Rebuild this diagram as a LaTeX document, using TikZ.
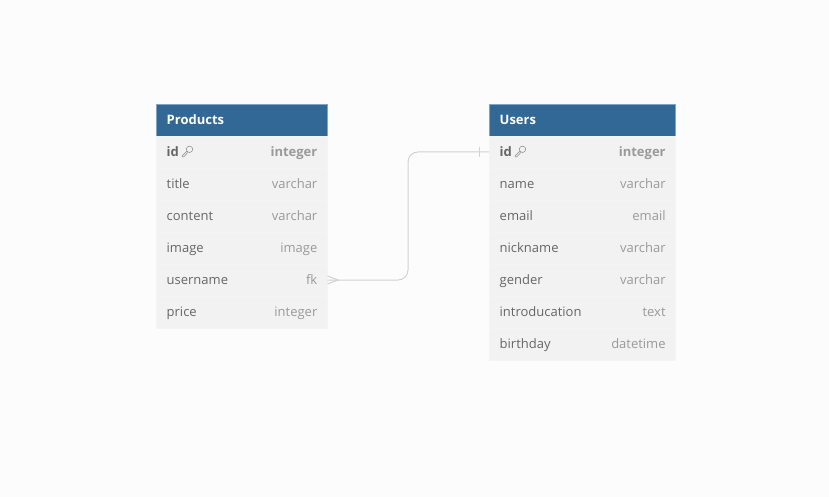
\documentclass[tikz,border=0pt]{standalone}
\usepackage{fontspec}
\setmainfont{Open Sans}
\definecolor{pagebg}{HTML}{FCFCFC}
\definecolor{headfill}{HTML}{316896}
\definecolor{headline}{HTML}{7FA5C4}
\definecolor{rowfill}{HTML}{F2F2F2}
\definecolor{rowline}{HTML}{F4F4F4}
\definecolor{namegray}{HTML}{666666}
\definecolor{typegray}{HTML}{9A9A9A}
\definecolor{linkgray}{HTML}{D2D2D2}
\tikzset{
	tablehead/.style={draw=headline, fill=headfill, line width=0.8pt, inner sep=0pt, minimum height=32pt},
	tablerow/.style={draw=rowline, fill=rowfill, line width=0.6pt, inner sep=0pt, minimum height=32pt},
	headtext/.style={anchor=base west, inner sep=0pt, text=white, font=\fontsize{13}{13}\selectfont\bfseries},
	fieldname/.style={anchor=base west, inner sep=0pt, text=namegray, font=\fontsize{13}{13}\selectfont},
	fieldtype/.style={anchor=base east, inner sep=0pt, text=typegray, font=\fontsize{13}{13}\selectfont},
	keyname/.style={fieldname, font=\fontsize{13}{13}\selectfont\bfseries},
	keytype/.style={fieldtype, font=\fontsize{13}{13}\selectfont\bfseries},
	keyicon/.pic={
		\draw[typegray!90!black, line width=0.55pt] (2, -2.2) circle (3.2);
		\draw[typegray!90!black, line width=0.55pt, line join=round] (-0.6, -0.4) -- (-5.3, 4.2) -- (-5.3, 5.4) -- (-3.8, 5.4) -- (0.3, 1);
	}
}

\begin{document}
\begin{tikzpicture}[x=1pt, y=-1pt]
		\fill[pagebg] (0, 0) rectangle (829, 497);
		\useasboundingbox (0, 0) rectangle (829, 497);

		% Products
		\node[tablehead, minimum width=171pt] (productsHead) at (241.5, 120) {};
		\node[tablerow, minimum width=171pt] (productsId) at (241.5, 152) {};
		\node[tablerow, minimum width=171pt] (productsTitle) at (241.5, 184) {};
		\node[tablerow, minimum width=171pt] (productsContent) at (241.5, 216) {};
		\node[tablerow, minimum width=171pt] (productsImage) at (241.5, 248) {};
		\node[tablerow, minimum width=171pt] (productsUsername) at (241.5, 280) {};
		\node[tablerow, minimum width=171pt] (productsPrice) at (241.5, 312) {};

		\node[headtext] (productsLabel) at (166.5, 124.7) {Products};
		\node[keyname] (productsIdName) at (166.5, 156.7) {id};
		\node[fieldname] (productsTitleName) at (166.5, 188) {title};
		\node[fieldname] (productsContentName) at (166.5, 220) {content};
		\node[fieldname] (productsImageName) at (166.5, 252) {image};
		\node[fieldname] (productsUsernameName) at (166.5, 284) {username};
		\node[fieldname] (productsPriceName) at (166.5, 316) {price};

		\node[keytype] (productsIdType) at (317.5, 156.7) {integer};
		\node[fieldtype] (productsTitleType) at (317.5, 188) {varchar};
		\node[fieldtype] (productsContentType) at (317.5, 220) {varchar};
		\node[fieldtype] (productsImageType) at (317.5, 252) {image};
		\node[fieldtype] (productsUsernameType) at (317.5, 284) {fk};
		\node[fieldtype] (productsPriceType) at (317.5, 316) {integer};

		\pic at (187.5, 151.5) {keyicon};

		% Users
		\node[tablehead, minimum width=186pt] (usersHead) at (582.5, 120) {};
		\node[tablerow, minimum width=186pt] (usersId) at (582.5, 152) {};
		\node[tablerow, minimum width=186pt] (usersName) at (582.5, 184) {};
		\node[tablerow, minimum width=186pt] (usersEmail) at (582.5, 216) {};
		\node[tablerow, minimum width=186pt] (usersNickname) at (582.5, 248) {};
		\node[tablerow, minimum width=186pt] (usersGender) at (582.5, 280) {};
		\node[tablerow, minimum width=186pt] (usersIntro) at (582.5, 312) {};
		\node[tablerow, minimum width=186pt] (usersBirthday) at (582.5, 344) {};

		\node[headtext] (usersLabel) at (499.5, 124.7) {Users};
		\node[keyname] (usersIdName) at (499.5, 156.7) {id};
		\node[fieldname] (usersNameName) at (499.5, 188) {name};
		\node[fieldname] (usersEmailName) at (499.5, 220) {email};
		\node[fieldname] (usersNicknameName) at (499.5, 252) {nickname};
		\node[fieldname] (usersGenderName) at (499.5, 284) {gender};
		\node[fieldname] (usersIntroName) at (499.5, 316) {introducation};
		\node[fieldname] (usersBirthdayName) at (499.5, 348) {birthday};

		\node[keytype] (usersIdType) at (665.8, 156.7) {integer};
		\node[fieldtype] (usersNameType) at (665.8, 188) {varchar};
		\node[fieldtype] (usersEmailType) at (665.8, 220) {email};
		\node[fieldtype] (usersNicknameType) at (665.8, 252) {varchar};
		\node[fieldtype] (usersGenderType) at (665.8, 284) {varchar};
		\node[fieldtype] (usersIntroType) at (665.8, 316) {text};
		\node[fieldtype] (usersBirthdayType) at (665.8, 348) {datetime};

		\pic at (520.5, 151.5) {keyicon};

		% link
		\coordinate (linkMid) at (408, 216);
		\draw[linkgray, line width=1pt, rounded corners=10pt] (productsUsername.east) -| (linkMid) |- (usersId.west);
		\coordinate (crowTip) at (338, 280);
		\coordinate (crowUp) at (327.5, 276);
		\coordinate (crowDown) at (327.5, 284);
		\draw[linkgray, line width=1pt] (crowUp) -- (crowTip) -- (crowDown);
		\coordinate (barUp) at (479.5, 147);
		\coordinate (barDown) at (479.5, 157.5);
		\draw[linkgray, line width=1pt] (barUp) -- (barDown);
	\end{tikzpicture}
\end{document}
